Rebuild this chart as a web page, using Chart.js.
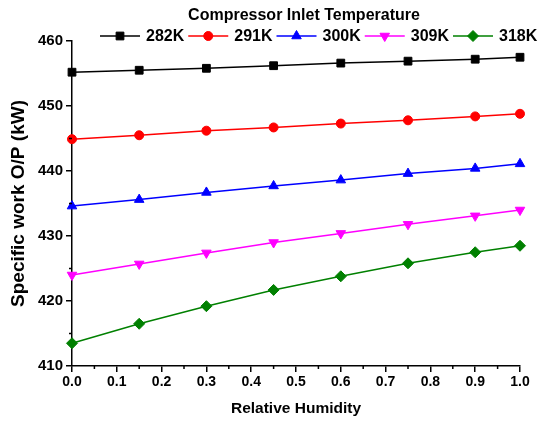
<!DOCTYPE html>
<html>
<head>
<meta charset="utf-8">
<script src="https://cdn.jsdelivr.net/npm/chart.js@4.4.1/dist/chart.umd.min.js"></script>
<style>
  body { margin: 0; background: #fff; }
  canvas { display: block; }
</style>
</head>
<body>
<canvas id="myChart" width="540" height="422"></canvas>
<script>
// relative humidity (x) and specific work O/P in kW for each inlet temperature
var humidity = [0, 0.15, 0.3, 0.45, 0.6, 0.75, 0.9, 1.0];
var k282 = [455.2, 455.5, 455.8, 456.2, 456.6, 456.9, 457.2, 457.5];
var k291 = [444.9, 445.5, 446.2, 446.7, 447.3, 447.8, 448.4, 448.8];
var k300 = [434.6, 435.6, 436.7, 437.7, 438.6, 439.6, 440.4, 441.1];
var k309 = [424.0, 425.7, 427.4, 429.0, 430.4, 431.8, 433.1, 434.0];
var k318 = [413.5, 416.5, 419.2, 421.7, 423.8, 425.8, 427.5, 428.5];
var seriesLabels = ['282K', '291K', '300K', '309K', '318K'];
var legendTitle = 'Compressor Inlet Temperature';

var FONT = "'Liberation Sans', Arial, sans-serif";

function pts(vals) {
    return humidity.map(function (h, i) { return { x: h, y: vals[i] }; });
}

function series(label, vals, color, style, radius, rotation) {
    return {
        label: label,
        data: pts(vals),
        borderColor: color,
        backgroundColor: color,
        borderWidth: 1.5,
        pointStyle: style,
        pointRadius: radius,
        pointRotation: rotation || 0,
        pointBorderWidth: 1,
        pointBackgroundColor: color,
        pointBorderColor: color,
        clip: false
    };
}

// minor ticks, half the length of the major ones
var minorTicks = {
    id: 'minorTicks',
    afterDraw: function (chart) {
        var ctx = chart.ctx;
        var xs = chart.scales.x, ys = chart.scales.y;
        ctx.save();
        ctx.strokeStyle = '#000';
        ctx.lineWidth = 1.5;
        ctx.beginPath();
        for (var v = 0.05; v < 1; v += 0.1) {
            var px = xs.getPixelForValue(v);
            ctx.moveTo(px, ys.bottom);
            ctx.lineTo(px, ys.bottom + 3);
        }
        for (var w = 415; w < 460; w += 10) {
            var py = ys.getPixelForValue(w);
            ctx.moveTo(xs.left, py);
            ctx.lineTo(xs.left - 3, py);
        }
        ctx.stroke();
        ctx.restore();
    }
};

// legend with title, drawn in one row above the plot
var topLegend = {
    id: 'topLegend',
    afterDraw: function (chart) {
        var ctx = chart.ctx;
        ctx.save();
        ctx.fillStyle = '#000';
        ctx.textBaseline = 'middle';
        ctx.textAlign = 'center';
        ctx.font = 'bold 16px ' + FONT;
        ctx.fillText(legendTitle, 304, 16);
        ctx.textAlign = 'left';
        var x = 100, y = 36;
        chart.data.datasets.forEach(function (ds) {
            ctx.strokeStyle = ds.borderColor;
            ctx.lineWidth = 1.5;
            ctx.beginPath();
            ctx.moveTo(x, y);
            ctx.lineTo(x + 40, y);
            ctx.stroke();
            ctx.fillStyle = ds.pointBackgroundColor;
            ctx.strokeStyle = ds.pointBorderColor;
            ctx.lineWidth = 1;
            Chart.helpers.drawPoint(ctx, {
                pointStyle: ds.pointStyle,
                radius: ds.pointRadius,
                rotation: ds.pointRotation,
                borderWidth: 1
            }, x + 20, y);
            ctx.fillStyle = '#000';
            ctx.fillText(ds.label, x + 46, y + 1);
            x += 46 + ctx.measureText(ds.label).width + 4;
        });
        ctx.restore();
    }
};

var ctx = document.getElementById('myChart').getContext('2d');
var myChart = new Chart(ctx, {
    type: 'line',
    data: {
        datasets: [
            series(seriesLabels[0], k282, '#000000', 'rect', 5.5),
            series(seriesLabels[1], k291, '#ff0000', 'circle', 4.5),
            series(seriesLabels[2], k300, '#0000ff', 'triangle', 5.5),
            series(seriesLabels[3], k309, '#ff00ff', 'triangle', 5.5, 180),
            series(seriesLabels[4], k318, '#008000', 'rectRot', 5.5)
        ]
    },
    options: {
        responsive: false,
        animation: false,
        layout: { padding: { left: 0, right: 20, top: 41, bottom: 0 } },
        plugins: {
            legend: { display: false },
            tooltip: { enabled: false }
        },
        scales: {
            x: {
                type: 'linear',
                min: 0,
                max: 1,
                afterFit: function (s) { s.height = 56; },
                border: { display: true, color: '#000', width: 1.5 },
                grid: { drawOnChartArea: false, drawTicks: true, tickLength: 6, color: '#000', lineWidth: 1.5 },
                ticks: {
                    stepSize: 0.1,
                    padding: 2,
                    color: '#000',
                    font: { family: FONT, size: 14, weight: 'bold' },
                    callback: function (v) { return v.toFixed(1); }
                },
                title: {
                    display: true,
                    text: 'Relative Humidity',
                    color: '#000',
                    font: { family: FONT, size: 15.5, weight: 'bold' },
                    padding: { top: 0, bottom: 4 }
                }
            },
            y: {
                min: 410,
                max: 460,
                afterFit: function (s) { s.width = 72; },
                border: { display: true, color: '#000', width: 1.5 },
                grid: { drawOnChartArea: false, drawTicks: true, tickLength: 6, color: '#000', lineWidth: 1.5 },
                ticks: {
                    stepSize: 10,
                    padding: 3,
                    color: '#000',
                    font: { family: FONT, size: 15, weight: 'bold' }
                },
                title: {
                    display: true,
                    text: 'Specific work O/P (kW)',
                    color: '#000',
                    font: { family: FONT, size: 19, weight: 'bold' },
                    padding: { top: 7, bottom: 0 }
                }
            }
        }
    },
    plugins: [minorTicks, topLegend]
});
</script>
</body>
</html>
